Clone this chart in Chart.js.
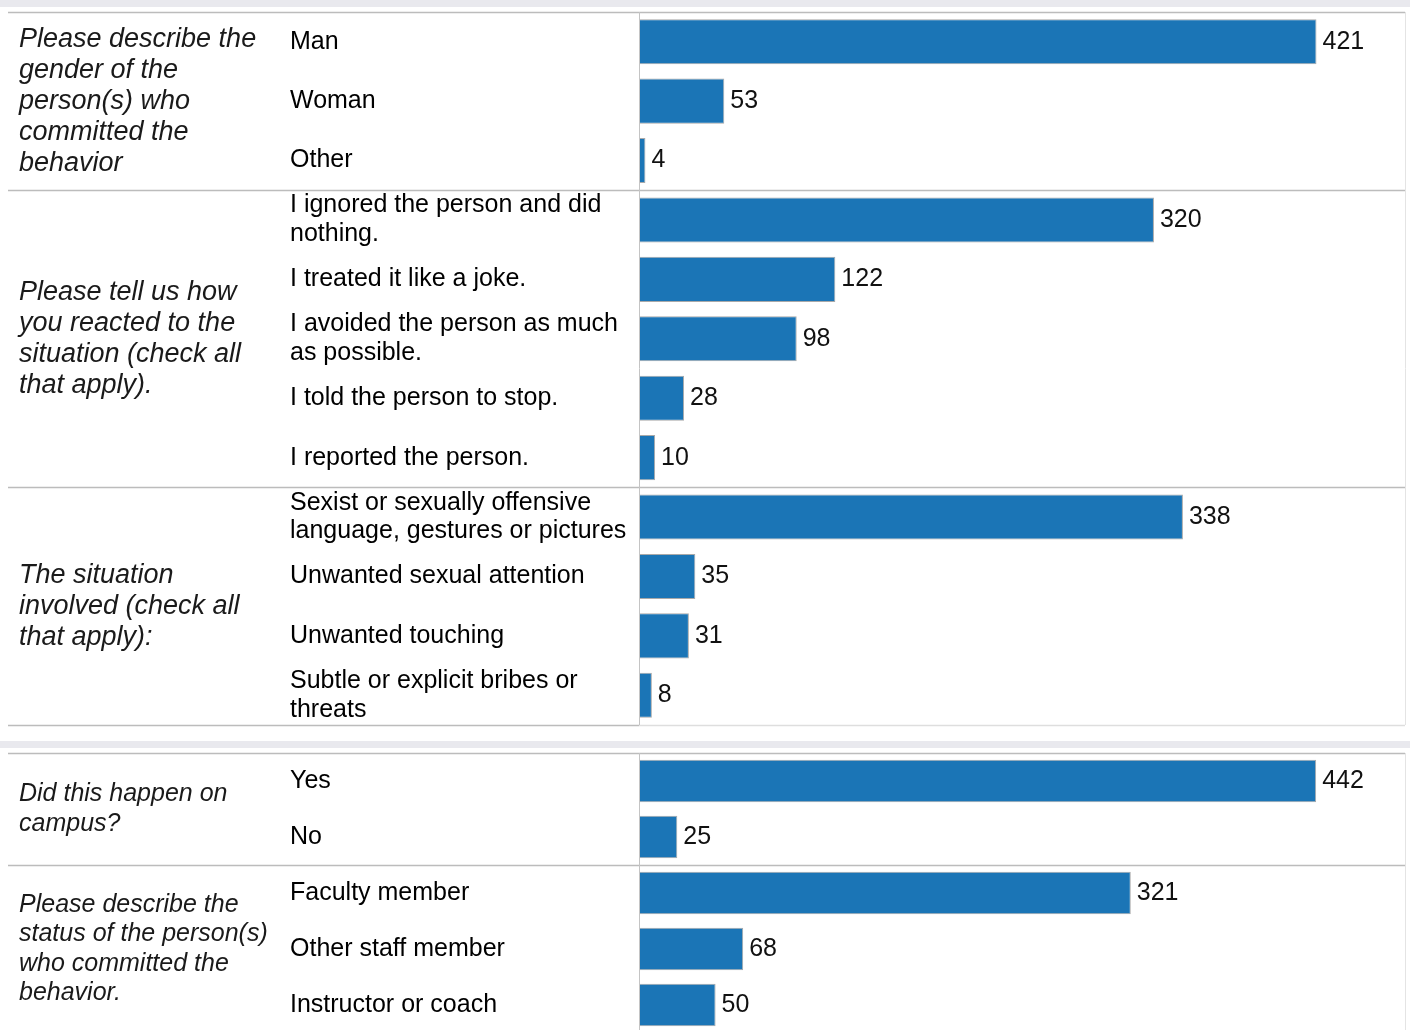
<!DOCTYPE html>
<html>
<head>
<meta charset="utf-8">
<script src="https://cdn.jsdelivr.net/npm/chart.js@4.4.1/dist/chart.umd.min.js"></script>
<style>
  html, body { margin: 0; padding: 0; background: #fff; overflow: hidden; }
  body { width: 1410px; height: 1030px; position: relative; }
  .band { position: absolute; left: 0; width: 1410px; height: 7px; background: #e9e9ee; }
  canvas { position: absolute; left: 0; }
</style>
</head>
<body>
<div class="band" style="top:0"></div>
<div class="band" style="top:741px"></div>
<canvas id="top-chart" width="1410" height="735" style="top:0"></canvas>
<canvas id="bottom-chart" width="1410" height="290" style="top:748px"></canvas>
<script>
// Datos del panel superior
const topLabels = [
    ['Man'], ['Woman'], ['Other'],
    ['I ignored the person and did', 'nothing.'],
    ['I treated it like a joke.'],
    ['I avoided the person as much', 'as possible.'],
    ['I told the person to stop.'],
    ['I reported the person.'],
    ['Sexist or sexually offensive', 'language, gestures or pictures'],
    ['Unwanted sexual attention'],
    ['Unwanted touching'],
    ['Subtle or explicit bribes or', 'threats']
];
const topValues = [421, 53, 4, 320, 122, 98, 28, 10, 338, 35, 31, 8];
const topQuestions = [
    ['Please describe the', 'gender of the', 'person(s) who', 'committed the', 'behavior'],
    ['Please tell us how', 'you reacted to the', 'situation (check all', 'that apply).'],
    ['The situation', 'involved (check all', 'that apply):']
];
const topGroupSizes = [3, 5, 4];

// Datos del panel inferior
const bottomLabels = ['Yes', 'No', 'Faculty member', 'Other staff member', 'Instructor or coach'];
const bottomValues = [442, 25, 321, 68, 50];
const bottomQuestions = [
    ['Did this happen on', 'campus?'],
    ['Please describe the', 'status of the person(s)', 'who committed the', 'behavior.']
];
const bottomGroupSizes = [2, 3];

const FONT = '"Liberation Sans", Arial, sans-serif';
const BAR_COLOR = '#1b75b6';

// Plugin que dibuja preguntas, separadores y etiquetas de valor
function panelPlugin(questions, groupSizes, qSize, qLine, lastLineLight) {
    return {
        id: 'panel',
        afterDraw(chart) {
            const ctx = chart.ctx;
            const area = chart.chartArea;
            const y = chart.scales.y;
            const half = (y.getPixelForValue(1) - y.getPixelForValue(0)) / 2;

            ctx.save();
            // separadores horizontales
            let idx = 0;
            const bounds = [area.top];
            groupSizes.forEach(n => {
                idx += n;
                bounds.push(y.getPixelForValue(idx - 1) + half);
            });
            bounds.forEach((b, i) => {
                const yy = Math.round(b) + 0.5;
                const last = i === bounds.length - 1;
                ctx.lineWidth = 1.5;
                ctx.strokeStyle = '#bcbcbc';
                ctx.beginPath();
                ctx.moveTo(8, yy);
                ctx.lineTo(area.left, yy);
                ctx.stroke();
                ctx.strokeStyle = (last && lastLineLight) ? '#dedede' : '#bcbcbc';
                ctx.beginPath();
                ctx.moveTo(area.left, yy);
                ctx.lineTo(area.right, yy);
                ctx.stroke();
            });
            // eje vertical y borde derecho
            ctx.lineWidth = 1;
            ctx.strokeStyle = '#c4c4c4';
            ctx.beginPath();
            ctx.moveTo(Math.round(area.left) + 0.5, area.top);
            ctx.lineTo(Math.round(area.left) + 0.5, area.bottom);
            ctx.stroke();
            ctx.strokeStyle = '#e4e4e4';
            ctx.beginPath();
            ctx.moveTo(Math.round(area.right) + 0.5, area.top);
            ctx.lineTo(Math.round(area.right) + 0.5, area.bottom);
            ctx.stroke();

            // preguntas
            ctx.fillStyle = '#1a1a1a';
            ctx.font = 'italic ' + qSize + 'px ' + FONT;
            ctx.textAlign = 'left';
            ctx.textBaseline = 'middle';
            idx = 0;
            questions.forEach((lines, g) => {
                const start = idx;
                idx += groupSizes[g];
                const top = y.getPixelForValue(start) - half;
                const bottom = y.getPixelForValue(idx - 1) + half;
                const mid = (top + bottom) / 2;
                lines.forEach((t, i) => {
                    ctx.fillText(t, 19, mid + (i - (lines.length - 1) / 2) * qLine);
                });
            });

            // valores de las barras
            ctx.fillStyle = '#111';
            ctx.font = '25px ' + FONT;
            const meta = chart.getDatasetMeta(0);
            meta.data.forEach((bar, i) => {
                ctx.fillText(chart.data.datasets[0].data[i], bar.x + 6, bar.y);
            });
            ctx.restore();
        }
    };
}

function makeChart(id, labels, values, xMax, questions, groupSizes, qSize, qLine, lastLineLight, padTop, padBottom) {
    const ctx = document.getElementById(id).getContext('2d');
    return new Chart(ctx, {
        type: 'bar',
        data: {
            labels: labels,
            datasets: [{
                data: values,
                backgroundColor: BAR_COLOR,
                borderColor: '#a9a9a9',
                borderWidth: 1,
                borderSkipped: false,
                barPercentage: 0.76,
                categoryPercentage: 1
            }]
        },
        options: {
            indexAxis: 'y',
            responsive: false,
            animation: false,
            layout: { padding: { left: 290, right: 5, top: padTop, bottom: padBottom } },
            plugins: { legend: { display: false }, tooltip: { enabled: false } },
            scales: {
                x: { display: false, min: 0, max: xMax },
                y: {
                    grid: { display: false },
                    border: { display: false },
                    afterFit(scale) {
                        scale.width = 349;
                        scale.paddingTop = 0;
                        scale.paddingBottom = 0;
                    },
                    ticks: {
                        autoSkip: false,
                        crossAlign: 'far',
                        color: '#000',
                        padding: 0,
                        font: { family: FONT, size: 25, lineHeight: 1.15 }
                    }
                }
            }
        },
        plugins: [panelPlugin(questions, groupSizes, qSize, qLine, lastLineLight)]
    });
}

makeChart('top-chart', topLabels, topValues, 476, topQuestions, topGroupSizes, 27, 31, true, 12, 10);
makeChart('bottom-chart', bottomLabels, bottomValues, 500, bottomQuestions, bottomGroupSizes, 25, 29.5, false, 5, 5);
</script>
</body>
</html>
